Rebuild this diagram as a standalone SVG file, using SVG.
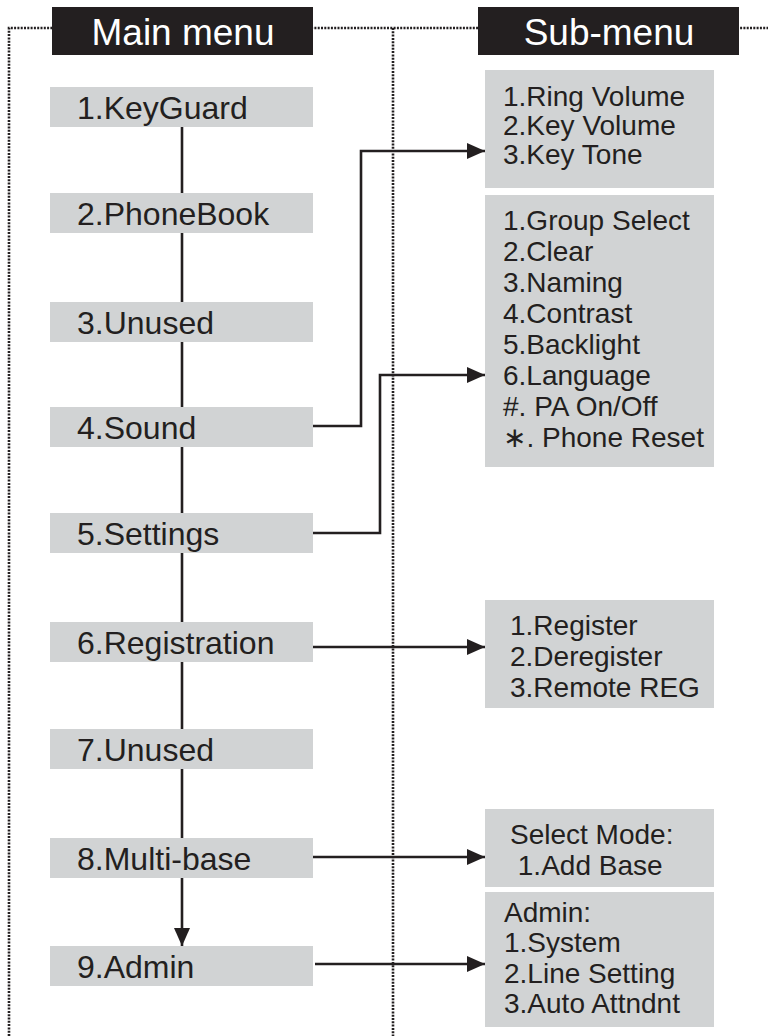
<svg xmlns="http://www.w3.org/2000/svg" width="768" height="1036" viewBox="0 0 768 1036">
<style>
.dot{fill:none;stroke:#231f20;stroke-width:2.6;stroke-dasharray:2 1.3}
.hdr{fill:#231f20}
.htxt{font-family:"Liberation Sans",Arial,sans-serif;font-size:37px;fill:#ffffff;text-anchor:middle}
.box{fill:#d1d3d4}
.mtxt{font-family:"Liberation Sans",Arial,sans-serif;font-size:32px;fill:#231f20}
.stxt{font-family:"Liberation Sans",Arial,sans-serif;font-size:28px;fill:#231f20}
.con{fill:none;stroke:#231f20;stroke-width:2.6}
</style>
<defs>
<marker id="arr" markerUnits="userSpaceOnUse" markerWidth="18" markerHeight="18" viewBox="0 0 18 18" refX="18" refY="9" orient="auto">
<path d="M0,1 L18,9 L0,17 Z" fill="#231f20"/>
</marker>
</defs>
<rect width="768" height="1036" fill="#ffffff"/>
<g id="frame">
<path class="dot" d="M9,1036 V28 H768"/>
<path class="dot" d="M393,28 V1036"/>
</g>
<g id="connectors">
<path class="con" d="M182,127 V193"/>
<path class="con" d="M182,233 V302"/>
<path class="con" d="M182,342 V407"/>
<path class="con" d="M182,447 V513"/>
<path class="con" d="M182,553 V622"/>
<path class="con" d="M182,662 V729"/>
<path class="con" d="M182,769 V838"/>
<path class="con" d="M182,878 V946" marker-end="url(#arr)"/>
<path class="con" d="M313,426 H361 V151 H485" marker-end="url(#arr)"/>
<path class="con" d="M313,533 H380 V375 H485" marker-end="url(#arr)"/>
<path class="con" d="M313,647 H485" marker-end="url(#arr)"/>
<path class="con" d="M313,857 H485" marker-end="url(#arr)"/>
<path class="con" d="M315,964 H485" marker-end="url(#arr)"/>
</g>
<g id="header-main">
<rect class="hdr" x="52" y="7" width="261" height="48"/>
<text class="htxt" x="183" y="45">Main menu</text>
</g>
<g id="header-sub">
<rect class="hdr" x="478" y="7" width="261" height="48"/>
<text class="htxt" x="609" y="45">Sub-menu</text>
</g>
<g id="m1"><rect class="box" x="50" y="87" width="263" height="40"/><text class="mtxt" x="77" y="119">1.KeyGuard</text></g>
<g id="m2"><rect class="box" x="50" y="193" width="263" height="40"/><text class="mtxt" x="77" y="225">2.PhoneBook</text></g>
<g id="m3"><rect class="box" x="50" y="302" width="263" height="40"/><text class="mtxt" x="77" y="334">3.Unused</text></g>
<g id="m4"><rect class="box" x="50" y="407" width="263" height="40"/><text class="mtxt" x="77" y="439">4.Sound</text></g>
<g id="m5"><rect class="box" x="50" y="513" width="263" height="40"/><text class="mtxt" x="77" y="545">5.Settings</text></g>
<g id="m6"><rect class="box" x="50" y="622" width="263" height="40"/><text class="mtxt" x="77" y="654">6.Registration</text></g>
<g id="m7"><rect class="box" x="50" y="729" width="263" height="40"/><text class="mtxt" x="77" y="761">7.Unused</text></g>
<g id="m8"><rect class="box" x="50" y="838" width="263" height="40"/><text class="mtxt" x="77" y="870">8.Multi-base</text></g>
<g id="m9"><rect class="box" x="50" y="946" width="263" height="40"/><text class="mtxt" x="77" y="978">9.Admin</text></g>
<g id="s-sound">
<rect class="box" x="485" y="70" width="229" height="118"/>
<text class="stxt"><tspan x="503" y="106">1.Ring Volume</tspan><tspan x="503" y="135">2.Key Volume</tspan><tspan x="503" y="164">3.Key Tone</tspan></text>
</g>
<g id="s-settings">
<rect class="box" x="485" y="195" width="229" height="272"/>
<text class="stxt"><tspan x="503" y="230">1.Group Select</tspan><tspan x="503" y="261">2.Clear</tspan><tspan x="503" y="292">3.Naming</tspan><tspan x="503" y="323">4.Contrast</tspan><tspan x="503" y="354">5.Backlight</tspan><tspan x="503" y="385">6.Language</tspan><tspan x="503" y="416">#. PA On/Off</tspan><tspan x="503" y="447"><tspan font-family="'DejaVu Sans',sans-serif">∗</tspan>. Phone Reset</tspan></text>
</g>
<g id="s-registration">
<rect class="box" x="485" y="600" width="229" height="108"/>
<text class="stxt"><tspan x="510" y="635">1.Register</tspan><tspan x="510" y="666">2.Deregister</tspan><tspan x="510" y="697">3.Remote REG</tspan></text>
</g>
<g id="s-multibase">
<rect class="box" x="485" y="809" width="229" height="78"/>
<text class="stxt"><tspan x="510" y="844">Select Mode:</tspan><tspan x="510" y="875"> 1.Add Base</tspan></text>
</g>
<g id="s-admin">
<rect class="box" x="485" y="892" width="229" height="135"/>
<text class="stxt"><tspan x="504" y="922">Admin:</tspan><tspan x="504" y="952">1.System</tspan><tspan x="504" y="983">2.Line Setting</tspan><tspan x="504" y="1013">3.Auto Attndnt</tspan></text>
</g>
</svg>
